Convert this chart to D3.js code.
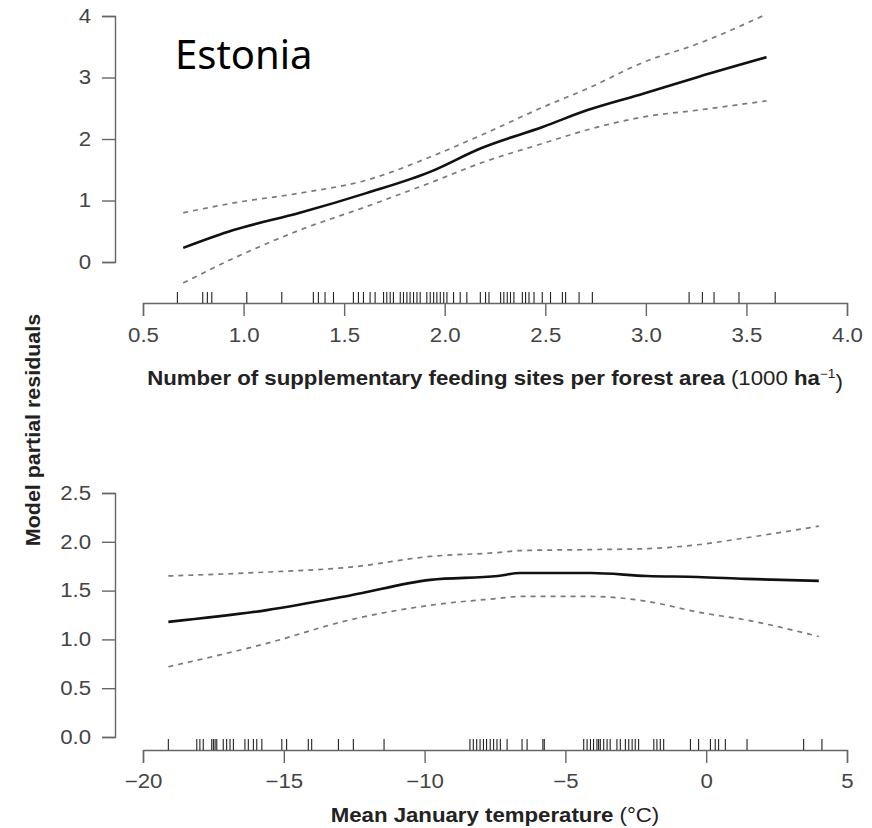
<!DOCTYPE html>
<html><head><meta charset="utf-8">
<script src="https://cdn.jsdelivr.net/npm/d3@7"></script>
<style>body{margin:0;background:#fff}</style>
</head><body><svg id="chart" width="872" height="828"></svg>
<script>
// ---- Top panel: supplementary feeding sites ----
const feedX     = [0.70, 0.95, 1.28, 1.61, 1.93, 2.18, 2.49, 2.71, 2.99, 3.26, 3.60];
const feedFit   = [0.23, 0.52, 0.80, 1.12, 1.47, 1.85, 2.20, 2.47, 2.74, 3.01, 3.33];
const feedUpper = [0.80, 0.96, 1.12, 1.33, 1.71, 2.06, 2.52, 2.82, 3.25, 3.55, 4.03];
const feedLower = [-0.34, 0.06, 0.52, 0.90, 1.29, 1.61, 1.93, 2.15, 2.36, 2.47, 2.62];
const feedRug = [0.671,0.797,0.820,0.842,1.016,1.190,1.347,1.372,1.405,1.447,1.546,1.571,1.596,1.629,1.654,
  1.696,1.712,1.729,1.745,1.779,1.795,1.812,1.828,1.845,1.862,1.878,1.911,1.928,1.945,1.961,1.978,1.995,2.011,
  2.044,2.077,2.110,2.177,2.203,2.220,2.278,2.294,2.311,2.327,2.344,2.386,2.402,2.419,2.444,2.485,2.526,2.585,
  2.601,2.668,2.734,3.215,3.281,3.339,3.463,3.643];
const feedXTicks = [0.5, 1.0, 1.5, 2.0, 2.5, 3.0, 3.5, 4.0];
const feedYTicks = [0, 1, 2, 3, 4];

// ---- Bottom panel: mean January temperature ----
const tempX     = [-19.1, -15.6, -12.65, -9.8, -7.4, -6.6, -4.1, -2.1, -0.3, 1.4, 4.0];
const tempFit   = [1.18, 1.30, 1.45, 1.61, 1.65, 1.68, 1.68, 1.65, 1.64, 1.62, 1.60];
const tempUpper = [1.65, 1.69, 1.74, 1.85, 1.89, 1.91, 1.92, 1.93, 1.97, 2.04, 2.16];
const tempLower = [0.72, 0.96, 1.20, 1.35, 1.42, 1.44, 1.44, 1.39, 1.28, 1.20, 1.03];
const tempRug = [-19.10,-18.09,-17.98,-17.86,-17.56,-17.50,-17.44,-17.38,-17.15,-17.03,-16.91,-16.79,-16.38,
  -16.26,-16.08,-15.96,-15.78,-15.07,-14.90,-14.13,-14.01,-13.06,-12.53,-11.44,-8.39,-8.27,-8.15,-8.03,-7.91,
  -7.80,-7.67,-7.55,-7.43,-7.31,-7.07,-6.54,-6.36,-5.80,-5.75,-4.35,-4.23,-4.11,-4.00,-3.88,-3.82,-3.76,-3.64,
  -3.52,-3.41,-3.17,-3.05,-2.87,-2.75,-2.63,-2.52,-2.40,-1.86,-1.75,-1.63,-1.51,-0.56,-0.27,0.15,0.32,0.44,
  0.68,1.45,3.46,4.11];
const tempXTicks = [-20, -15, -10, -5, 0, 5];
const tempYTicks = [0.0, 0.5, 1.0, 1.5, 2.0, 2.5];

const svg = d3.select("#chart");
const FONT = "'Liberation Sans', Arial, Helvetica, sans-serif";
const STRETCH = 1.14;

function panel(o) {
  const g = svg.append("g");
  const x = d3.scaleLinear().domain(o.xDomain).range([143, 847]);
  const y = d3.scaleLinear().domain(o.yDomain).range(o.yRange);

  // x axis
  const xa = g.append("g").attr("transform", `translate(0,${o.axisY})`)
    .call(d3.axisBottom(x).tickValues(o.xTicks).tickFormat(o.xFmt).tickSize(13).tickPadding(o.xPad));
  // y axis
  const ya = g.append("g").attr("transform", "translate(115,0)")
    .call(d3.axisLeft(y).tickValues(o.yTicks).tickFormat(o.yFmt).tickSize(13).tickPadding(8));
  [xa, ya].forEach(a => {
    a.select(".domain").attr("stroke", "#666").attr("stroke-width", 1.4);
    a.selectAll(".tick line").attr("stroke", "#666").attr("stroke-width", 1.4);
    a.selectAll(".tick text").attr("fill", "#444").style("font-family", FONT)
      .style("font-size", "19.5px").attr("transform", `scale(${STRETCH},1)`);
  });

  // rug
  g.append("g").selectAll("line").data(o.rug).join("line")
    .attr("x1", d => x(d)).attr("x2", d => x(d))
    .attr("y1", o.axisY).attr("y2", o.axisY - 11)
    .attr("stroke", "#222").attr("stroke-width", 1.1);

  const pts = (ys) => o.xs.map((v, i) => [x(v), y(ys[i])]);
  const line = d3.line().curve(d3.curveMonotoneX);
  [o.upper, o.lower].forEach(arr => {
    g.append("path").attr("d", line(pts(arr))).attr("fill", "none")
      .attr("stroke", "#7a7a7a").attr("stroke-width", 1.7).attr("stroke-dasharray", "5,5");
  });
  g.append("path").attr("d", line(pts(o.fit))).attr("fill", "none")
    .attr("stroke", "#111").attr("stroke-width", 2.6);

  // x title
  const t = g.append("text").attr("x", 495 / STRETCH).attr("y", o.titleY)
    .attr("transform", `scale(${STRETCH},1)`)
    .attr("text-anchor", "middle").style("font-family", FONT).style("font-size", "19.5px").attr("fill", "#222");
  o.title(t);
}

panel({
  xDomain: [0.5, 4.0], yDomain: [0, 4], yRange: [262, 16], axisY: 303, xPad: 12,
  xTicks: feedXTicks, yTicks: feedYTicks, xFmt: d3.format(".1f"), yFmt: d3.format("d"),
  xs: feedX, fit: feedFit, upper: feedUpper, lower: feedLower, rug: feedRug, titleY: 385,
  title: t => {
    t.append("tspan").style("font-weight", "bold").text("Number of supplementary feeding sites per forest area ");
    t.append("tspan").text("(1000 ");
    t.append("tspan").style("font-weight", "bold").text("ha");
    t.append("tspan").attr("dy", "-0.55em").style("font-size", "12px").text("\u22121");
    t.append("tspan").attr("dy", "0.55em").text(")");
  }
});

panel({
  xDomain: [-20, 5], yDomain: [0, 2.5], yRange: [737, 493], axisY: 750, xPad: 11,
  xTicks: tempXTicks, yTicks: tempYTicks, xFmt: d => d3.format("d")(d).replace("-", "\u2212"), yFmt: d3.format(".1f"),
  xs: tempX, fit: tempFit, upper: tempUpper, lower: tempLower, rug: tempRug, titleY: 822,
  title: t => {
    t.append("tspan").style("font-weight", "bold").text("Mean January temperature ");
    t.append("tspan").text("(\u00B0C)");
  }
});

// y label
svg.append("text").attr("transform", "translate(40,430) rotate(-90) scale(1.1,1)")
  .attr("text-anchor", "middle").style("font-family", FONT).style("font-weight", "bold")
  .style("font-size", "19.5px").attr("fill", "#222").text("Model partial residuals");

// panel label
svg.append("text").attr("x", 175).attr("y", 69).style("font-family", "'Noto Sans', 'Open Sans', sans-serif")
  .style("font-size", "40px").attr("fill", "#000").text("Estonia");
</script></body></html>
